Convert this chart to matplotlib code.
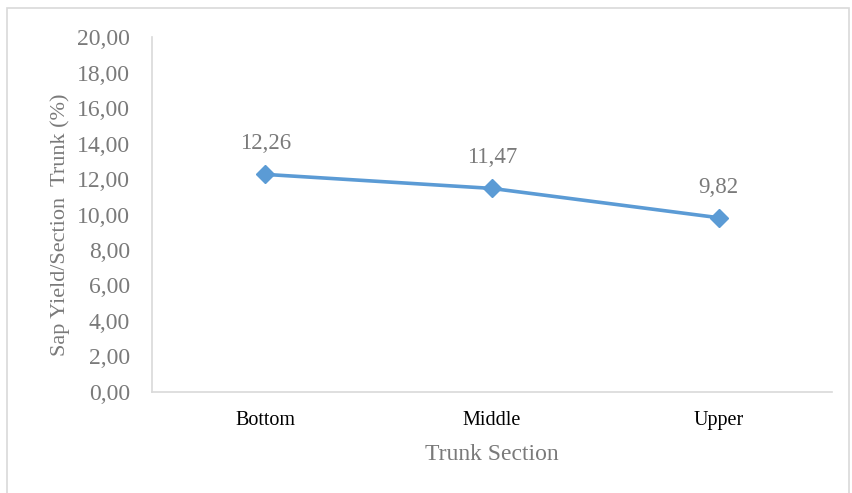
import matplotlib
matplotlib.use("Agg")
import matplotlib.pyplot as plt
from matplotlib.patches import Rectangle

# data
sections = ["Bottom", "Middle", "Upper"]
sap_yield = [12.26, 11.47, 9.82]
y_ticks = [0, 2, 4, 6, 8, 10, 12, 14, 16, 18, 20]

plt.rcParams["font.family"] = ["Liberation Serif", "DejaVu Serif"]

GRAY_TXT = "#7a7a7a"
GRAY_LINE = "#d9d9d9"
BLUE = "#5b9bd5"

fig = plt.figure(figsize=(8.52, 4.93), dpi=100)
ax = fig.add_axes([0.1784, 0.2049, 0.798, 0.720])

x = list(range(len(sections)))
ax.plot(x, sap_yield, color=BLUE, linewidth=2.6, marker="D", markersize=9,
        markerfacecolor=BLUE, markeredgecolor=BLUE)

for xi, v in zip(x, sap_yield):
    ax.annotate(f"{v:.2f}".replace(".", ","), (xi, v), xytext=(0, 22),
                textcoords="offset points", ha="center", va="center",
                fontsize=16.5, color=GRAY_TXT)

ax.set_xlim(-0.5, len(sections) - 0.5)
ax.set_ylim(0, 20)
ax.set_yticks(y_ticks)
ax.set_yticklabels([f"{t:.2f}".replace(".", ",") for t in y_ticks],
                   fontsize=17, color=GRAY_TXT)
ax.set_xticks(x)
ax.set_xticklabels(sections, fontsize=14.5, color="black")
ax.tick_params(axis="y", length=0, pad=16)
ax.tick_params(axis="x", length=0, pad=14)

for side in ["top", "right"]:
    ax.spines[side].set_visible(False)
for side in ["left", "bottom"]:
    ax.spines[side].set_color(GRAY_LINE)
    ax.spines[side].set_linewidth(1.2)

ax.set_xlabel("Trunk Section", fontsize=17, color=GRAY_TXT, labelpad=10)
ax.set_ylabel("Sap Yield/Section  Trunk (%)", fontsize=16, color=GRAY_TXT, labelpad=4)
ax.yaxis.set_label_coords(-0.12, 0.47)

# chart area border like the Excel export
fig.patches.append(Rectangle((0.0088, -0.02), 0.988, 1.004, transform=fig.transFigure,
                             fill=False, edgecolor=GRAY_LINE, linewidth=1.2))

fig.savefig("out.png", dpi=100, facecolor="white")
